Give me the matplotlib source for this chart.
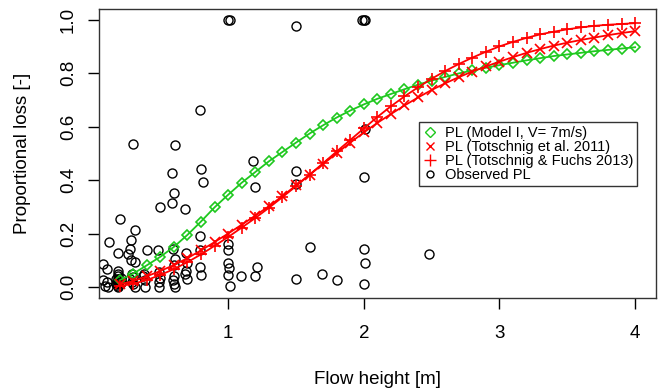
import matplotlib.pyplot as plt
from matplotlib.lines import Line2D

plt.rcParams['font.family'] = ['Liberation Sans', 'DejaVu Sans']

# flow heights where the vulnerability curves are evaluated
h = [0.2, 0.3, 0.4, 0.5, 0.6, 0.7, 0.8, 0.9, 1.0, 1.1, 1.2, 1.3, 1.4,
     1.5, 1.6, 1.7, 1.8, 1.9, 2.0, 2.1, 2.2, 2.3, 2.4, 2.5, 2.6, 2.7,
     2.8, 2.9, 3.0, 3.1, 3.2, 3.3, 3.4, 3.5, 3.6, 3.7, 3.8, 3.9, 4.0]

pl_model1 = [0.025, 0.05, 0.081, 0.113, 0.15, 0.195, 0.245, 0.298, 0.345,
             0.39, 0.43, 0.47, 0.505, 0.54, 0.574, 0.605, 0.634, 0.66,
             0.683, 0.704, 0.722, 0.74, 0.757, 0.772, 0.786, 0.799, 0.81,
             0.82, 0.83, 0.839, 0.848, 0.856, 0.864, 0.87, 0.876, 0.882,
             0.887, 0.892, 0.897]

pl_tot2011 = [0.01, 0.022, 0.04, 0.06, 0.082, 0.108, 0.137, 0.168, 0.2,
              0.233, 0.267, 0.302, 0.34, 0.38, 0.42, 0.46, 0.5, 0.54,
              0.578, 0.614, 0.647, 0.679, 0.709, 0.737, 0.762, 0.785,
              0.806, 0.825, 0.843, 0.86, 0.876, 0.89, 0.903, 0.914, 0.924,
              0.933, 0.942, 0.95, 0.957]

pl_tot2013 = [0.004, 0.012, 0.026, 0.045, 0.067, 0.093, 0.122, 0.154,
              0.187, 0.222, 0.258, 0.296, 0.336, 0.377, 0.42, 0.463, 0.507,
              0.55, 0.593, 0.636, 0.676, 0.713, 0.747, 0.779, 0.808, 0.834,
              0.858, 0.88, 0.9, 0.917, 0.932, 0.945, 0.955, 0.964, 0.971,
              0.977, 0.981, 0.984, 0.987]

# observed proportional losses
obs_h = [0.30, 0.605, 0.795, 0.998, 1.016, 1.503, 1.99, 2.0, 2.012,
         1.183, 0.80, 0.585, 1.50, 0.812, 0.603, 0.585, 0.50, 0.684, 0.20,
         1.196, 1.498, 2.0, 2.007,
         0.31, 0.285, 0.12, 0.273, 0.26, 0.285, 0.31, 0.19, 0.40, 0.48,
         0.593, 0.605, 0.69, 0.696, 0.79, 0.79, 0.79, 0.80,
         1.0, 1.0, 1.0, 1.006, 1.0, 1.016,
         1.095, 1.196, 1.215, 1.503, 1.60, 1.69, 1.805, 2.0, 2.007, 2.0, 2.48,
         0.08, 0.106, 0.08, 0.106, 0.118, 0.09,
         0.19, 0.19, 0.19, 0.19, 0.19, 0.19, 0.19, 0.19, 0.19, 0.19,
         0.17, 0.17, 0.21, 0.21,
         0.29, 0.29, 0.30, 0.30, 0.31, 0.28,
         0.38, 0.39, 0.39, 0.37,
         0.49, 0.49, 0.49, 0.50,
         0.60, 0.60, 0.60, 0.61, 0.59,
         0.69, 0.70, 0.68]
obs_pl = [0.534, 0.53, 0.663, 1.0, 1.0, 0.975, 1.0, 1.0, 1.0,
          0.471, 0.443, 0.426, 0.434, 0.393, 0.353, 0.314, 0.30, 0.29, 0.254,
          0.374, 0.387, 0.41, 0.592,
          0.212, 0.177, 0.168, 0.144, 0.125, 0.10, 0.093, 0.127, 0.137, 0.137,
          0.144, 0.106, 0.127, 0.09, 0.19, 0.137, 0.075, 0.044,
          0.162, 0.137, 0.09, 0.07, 0.045, 0.003,
          0.04, 0.04, 0.075, 0.031, 0.15, 0.05, 0.025, 0.144, 0.088, 0.013, 0.125,
          0.087, 0.069, 0.025, 0.019, 0.0, 0.005,
          0.0, 0.005, 0.01, 0.015, 0.02, 0.025, 0.03, 0.04, 0.05, 0.06,
          0.01, 0.03, 0.015, 0.035,
          0.05, 0.019, 0.037, 0.013, 0.0, 0.03,
          0.05, 0.025, 0.0, 0.04,
          0.056, 0.019, 0.0, 0.035,
          0.081, 0.04, 0.012, 0.0, 0.025,
          0.06, 0.03, 0.05]

green = '#1ec81e'
red = '#ff0000'

fig = plt.figure(figsize=(6.59, 3.91), dpi=100)
ax = fig.add_axes([0.1502, 0.2386, 0.8448, 0.7384])

ax.plot(obs_h, obs_pl, 'o', ms=6.5, mfc='none', mec='black', mew=1.0)
ax.plot(h, pl_model1, '-D', color=green, ms=5.5, mfc='none', mew=1.2, lw=1.3)
ax.plot(h, pl_tot2011, '-x', color=red, ms=7, mew=1.2, lw=1.3)
ax.plot(h, pl_tot2013, '-+', color=red, ms=9, mew=1.2, lw=1.3)

ax.set_xlim(0.048, 4.152)
ax.set_ylim(-0.04, 1.04)
ax.set_xticks([1, 2, 3, 4])
ax.set_xticklabels(['1', '2', '3', '4'])
ax.set_yticks([0.0, 0.2, 0.4, 0.6, 0.8, 1.0])
ax.set_yticklabels(['0.0', '0.2', '0.4', '0.6', '0.8', '1.0'],
                   rotation=90, va='center')
ax.tick_params(direction='out', length=8, width=1, labelsize=13.5)
ax.tick_params(axis='x', pad=12)
ax.tick_params(axis='y', pad=8)
for s in ax.spines.values():
    s.set_linewidth(1.0)
    s.set_color('#333333')

ax.set_xlabel('Flow height [m]', fontsize=13.5)
ax.xaxis.set_label_coords(0.5, -0.282)
ax.xaxis.label.set_va('center')
ax.set_ylabel('Proportional loss [-]', fontsize=13.5)
ax.yaxis.set_label_coords(-0.138, 0.5)
ax.yaxis.label.set_va('center')

handles = [
    Line2D([], [], ls='none', marker='D', color=green, mfc='none', ms=5.5, mew=1.0),
    Line2D([], [], ls='none', marker='x', color=red, ms=6, mew=1.0),
    Line2D([], [], ls='none', marker='+', color=red, ms=8, mew=1.0),
    Line2D([], [], ls='none', marker='o', color='black', mfc='none', ms=5, mew=1.0),
]
labels = ['PL (Model I, V= 7m/s)', 'PL (Totschnig et al. 2011)',
          'PL (Totschnig & Fuchs 2013)', 'Observed PL']
leg = ax.legend(handles, labels, loc='upper left', bbox_to_anchor=(0.575, 0.6076),
                fontsize=10.5, frameon=True, fancybox=False, framealpha=1,
                edgecolor='#333333', borderpad=0.25, labelspacing=0.0,
                handlelength=1.0, handletextpad=0.5, borderaxespad=0)
leg.get_frame().set_linewidth(1.0)

fig.savefig('out.png', dpi=100)
